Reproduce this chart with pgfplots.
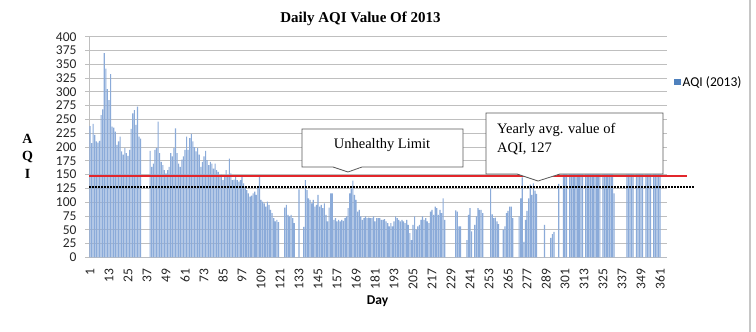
\documentclass[border=0pt]{standalone}
\usepackage{pgfplots}
\pgfplotsset{compat=1.18}
\usepackage{pgfplotstable}
\usepackage{fontspec}
\setmainfont{Carlito}
\newfontfamily\tnr{Liberation Serif}

\definecolor{barblue}{HTML}{8BABD9}
\definecolor{legblue}{HTML}{4F81BD}
\definecolor{gridgray}{HTML}{BFBFBF}
\definecolor{limitred}{HTML}{E2262B}
\definecolor{boxline}{HTML}{595959}

% daily AQI readings, 2013 (0 = no reading)
\pgfplotstableread{
day aqi
1 238
2 207
3 242
4 222
5 210
6 208
7 211
8 258
9 268
10 370
11 342
12 305
13 285
14 332
15 237
16 235
17 228
18 204
19 210
20 219
21 192
22 186
23 198
24 189
25 184
26 195
27 233
28 261
29 267
30 240
31 273
32 219
33 215
34 0
35 0
36 0
37 0
38 0
39 193
40 164
41 170
42 195
43 198
44 246
45 189
46 173
47 167
48 158
49 152
50 158
51 164
52 189
53 183
54 198
55 234
56 189
57 170
58 164
59 177
60 183
61 195
62 219
63 195
64 216
65 224
66 210
67 200
68 192
69 198
70 186
71 164
72 173
73 183
74 193
75 176
76 167
77 173
78 170
79 161
80 170
81 158
82 155
83 146
84 150
85 140
86 146
87 158
88 146
89 179
90 152
91 140
92 141
93 146
94 140
95 137
96 140
97 146
98 134
99 128
100 122
101 116
102 110
103 112
104 116
105 119
106 113
107 128
108 149
109 104
110 101
111 98
112 92
113 101
114 95
115 86
116 80
117 71
118 65
119 68
120 64
121 0
122 0
123 0
124 90
125 95
126 77
127 74
128 77
129 71
130 62
131 0
132 0
133 123
134 0
135 0
136 55
137 140
138 122
139 107
140 104
141 98
142 104
143 92
144 95
145 113
146 92
147 95
148 89
149 98
150 77
151 65
152 90
153 116
154 116
155 68
156 71
157 65
158 68
159 65
160 68
161 66
162 71
163 74
164 89
165 116
166 125
167 139
168 113
169 104
170 83
171 86
172 74
173 68
174 71
175 74
176 71
177 72
178 71
179 71
180 74
181 65
182 71
183 71
184 71
185 68
186 68
187 69
188 65
189 62
190 56
191 62
192 56
193 65
194 74
195 71
196 68
197 65
198 68
199 65
200 62
201 68
202 59
203 44
204 31
205 59
206 74
207 50
208 56
209 59
210 68
211 74
212 68
213 71
214 65
215 62
216 83
217 86
218 77
219 92
220 89
221 77
222 86
223 80
224 107
225 68
226 0
227 0
228 0
229 0
230 0
231 0
232 85
233 83
234 56
235 56
236 0
237 0
238 0
239 31
240 77
241 89
242 47
243 0
244 59
245 74
246 89
247 86
248 86
249 80
250 0
251 0
252 0
253 0
254 125
255 78
256 71
257 72
258 65
259 60
260 0
261 0
262 50
263 56
264 80
265 84
266 92
267 92
268 71
269 0
270 0
271 0
272 74
273 107
274 145
275 28
276 68
277 84
278 107
279 132
280 113
281 134
282 121
283 115
284 0
285 0
286 0
287 0
288 59
289 0
290 0
291 0
292 35
293 42
294 46
295 0
296 0
297 133
298 0
299 0
300 185
301 210
302 172
303 0
304 195
305 230
306 205
307 178
308 220
309 240
310 198
311 187
312 215
313 0
314 203
315 226
316 190
317 174
318 212
319 235
320 201
321 183
322 196
323 168
324 0
325 188
326 214
327 231
328 197
329 176
330 205
331 161
332 116
333 0
334 0
335 0
336 0
337 0
338 0
339 0
340 192
341 218
342 237
343 209
344 181
345 0
346 199
347 226
348 245
349 213
350 188
351 0
352 207
353 232
354 219
355 194
356 0
357 176
358 201
359 228
360 210
361 185
362 0
363 0
364 0
365 0
}\aqitable

\begin{document}
\begin{tikzpicture}
\useasboundingbox (0pt,0pt) rectangle (756pt,-332pt);

\begin{axis}[
  scale only axis,
  width=578pt, height=220.6pt,
  at={(89.2pt,-257.3pt)}, anchor=south west,
  xmin=0.5, xmax=365.5, ymin=0, ymax=400,
  clip=false,
  axis lines*=left,
  axis line style={-, gridgray, line width=0.8pt},
  ytick={0,25,...,400},
  xtick={1,13,...,361},
  minor xtick={0.5,1.5,...,365.5},
  ymajorgrids,
  major grid style={gridgray, line width=0.8pt},
  tick align=outside,
  major tick length=4pt, minor tick length=4pt,
  xtick style={draw=none},
  minor x tick style={gridgray, line width=0.5pt},
  ytick style={gridgray, line width=0.8pt},
  /pgf/number format/assume math mode=true,
  tick label style={font=\fontsize{13.5}{13.5}\selectfont, text=black!85},
  xticklabel style={rotate=90, anchor=east, inner sep=0pt},
  yticklabel style={anchor=east, inner sep=0pt},
  xticklabel shift=7pt,
  yticklabel shift=8.5pt,
  legend style={at={(1.012,0.7947)}, anchor=west, draw=none, fill=none,
    font=\fontsize{13.5}{14}\selectfont, inner sep=0pt},
  legend cell align=left,
]
\addplot[ybar, bar width=0.72, fill=barblue, draw=none,
  legend image code/.code={\fill[legblue] (0pt,-3.2pt) rectangle (6.4pt,3.2pt);}]
  table[x=day, y=aqi] {\aqitable};
\addlegendentry{AQI (2013)}

% unhealthy limit
\addplot[limitred, line width=2.2pt, no marks, forget plot]
  coordinates {(0.5,148) (378.1,148)};
% yearly average
\addplot[black, line width=1.8pt, dash pattern=on 1.5pt off 1.5pt, no marks, forget plot]
  coordinates {(0.5,127) (383.1,127)};
\end{axis}

% callouts
\draw[boxline, line width=0.8pt, fill=white]
  (302pt,-129pt) -- (463pt,-129pt) -- (463pt,-167pt) -- (362pt,-167pt)
  -- (348pt,-172pt) -- (333pt,-167pt) -- (302pt,-167pt) -- cycle;
\node[anchor=base, inner sep=0pt] at (382pt,-148pt)
  {\tnr\fontsize{14.5}{15}\selectfont Unhealthy Limit};

\draw[boxline, line width=0.8pt, fill=white]
  (486pt,-113pt) -- (663pt,-113pt) -- (663pt,-174pt) -- (560pt,-174pt)
  -- (538pt,-181pt) -- (517pt,-174pt) -- (486pt,-174pt) -- cycle;
\node[anchor=base west, inner sep=0pt] at (497pt,-133pt)
  {\tnr\fontsize{14.5}{15}\selectfont Yearly avg. value of};
\node[anchor=base west, inner sep=0pt] at (497pt,-152pt)
  {\tnr\fontsize{14.5}{15}\selectfont AQI, 127};

% titles
\node[anchor=base, inner sep=0pt] at (360.5pt,-23pt)
  {\tnr\bfseries\fontsize{15}{16}\selectfont Daily AQI Value Of 2013};
\node[anchor=base, inner sep=0pt] at (27.5pt,-143pt) {\tnr\bfseries\fontsize{14}{14}\selectfont A};
\node[anchor=base, inner sep=0pt] at (27.5pt,-160.5pt) {\tnr\bfseries\fontsize{14}{14}\selectfont Q};
\node[anchor=base, inner sep=0pt] at (27.5pt,-178pt) {\tnr\bfseries\fontsize{14}{14}\selectfont I};
\node[anchor=base, inner sep=0pt] at (377.5pt,-304pt) {\bfseries\fontsize{13.5}{14}\selectfont Day};

% chart frame edge
\draw[gray!45, line width=1.2pt] (750pt,0pt) -- (750pt,-332pt);
\end{tikzpicture}
\end{document}
